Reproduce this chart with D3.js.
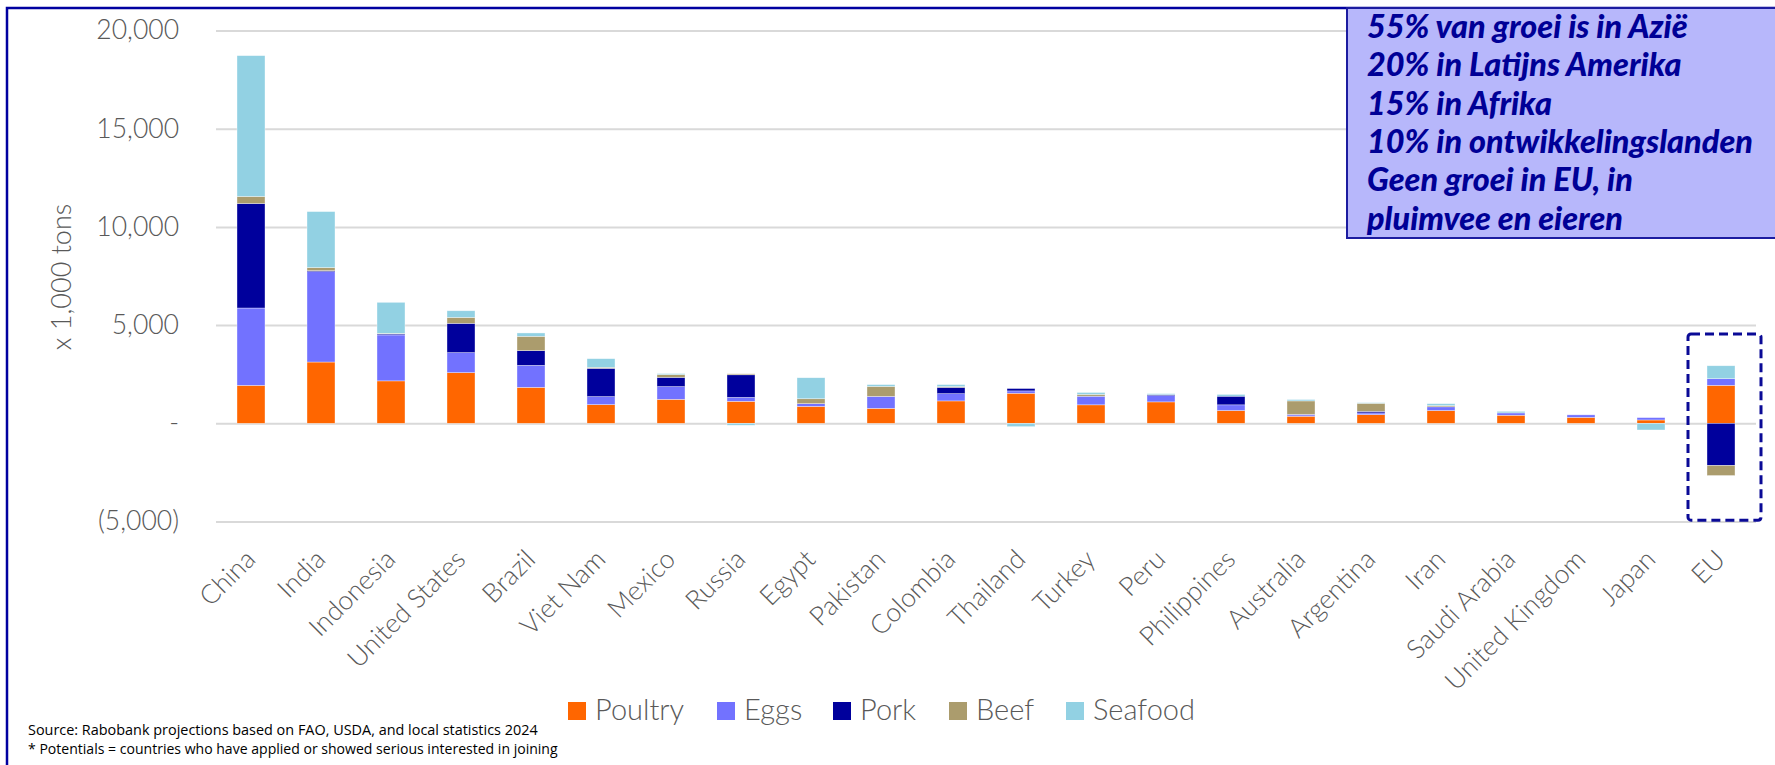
<!DOCTYPE html>
<html>
<head>
<meta charset="utf-8">
<script src="https://cdn.jsdelivr.net/npm/d3@7"></script>
<style>
  html, body { margin: 0; padding: 0; background: #fff; }
  svg { display: block; }
</style>
</head>
<body>
<script>
// ---------------- DATA ----------------
const categories = ["China", "India", "Indonesia", "United States", "Brazil", "Viet Nam", "Mexico", "Russia", "Egypt", "Pakistan", "Colombia", "Thailand", "Turkey", "Peru", "Philippines", "Australia", "Argentina", "Iran", "Saudi Arabia", "United Kingdom", "Japan", "EU"];
const seriesNames = ["Poultry", "Eggs", "Pork", "Beef", "Seafood"];
const poultry = [1930, 3120, 2160, 2580, 1830, 950, 1220, 1120, 860, 760, 1140, 1530, 940, 1090, 650, 360, 440, 650, 410, 300, 170, 1930];
const eggs    = [3940, 4600, 2340, 1020, 1120, 410, 650, 200, 140, 610, 370, 120, 440, 320, 290, 70, 90, 190, 120, 130, 120, 340];
const pork    = [5320, 50, 50, 1490, 750, 1440, 470, 1150, 0, 0, 320, 120, 0, 50, 440, 30, 80, 0, 0, 0, 0, -2150];
const beef    = [360, 160, 30, 300, 730, 50, 140, 50, 250, 510, 40, 0, 90, 0, 0, 680, 410, 60, 0, 0, 0, -510];
const seafood = [7170, 2850, 1580, 340, 170, 440, 50, -100, 1070, 90, 100, -170, 100, 50, 90, 70, 30, 100, 80, 0, -340, 660];
const yTicks = [-5000, 0, 5000, 10000, 15000, 20000];
const yTitle = "x 1,000 tons";
const noteLines = ["55% van groei is in Azië", "20% in Latijns Amerika", "15% in Afrika", "10% in ontwikkelingslanden", "Geen groei in EU, in", "pluimvee en eieren"];
const sourceLines = ["Source: Rabobank projections based on  FAO, USDA, and local statistics 2024", "* Potentials = countries who have applied or showed serious interested in joining"];
const highlightCategory = "EU";

// ---------------- STYLE ----------------
const colors = { Poultry: "#ff6600", Eggs: "#7272ff", Pork: "#00009c", Beef: "#ab9c6d", Seafood: "#92d1e3" };
const lightFont = "Lato, 'Open Sans', sans-serif";
const grey = "#595959";

const W = 1775, H = 765;
const svg = d3.select("body").append("svg").attr("width", W).attr("height", H);

// table for stacking
const seriesValues = { Poultry: poultry, Eggs: eggs, Pork: pork, Beef: beef, Seafood: seafood };
const table = categories.map((c, i) => {
  const row = { category: c };
  seriesNames.forEach(s => row[s] = seriesValues[s][i]);
  return row;
});
const stacked = d3.stack().keys(seriesNames).offset(d3.stackOffsetDiverging)(table);

const x = d3.scaleBand().domain(categories).range([216, 1756]).paddingInner(0.6).paddingOuter(0.3);
const y = d3.scaleLinear().domain([-5000, 20000]).range([521.5, 30.5]);

// outer frame
svg.append("rect").attr("x", 7).attr("y", 8).attr("width", 1800).attr("height", 800)
  .attr("fill", "none").attr("stroke", "#0000a0").attr("stroke-width", 2.5);

// gridlines
const grid = svg.append("g").attr("transform", "translate(216,0)")
  .call(d3.axisLeft(y).tickValues(yTicks).tickSize(-1540).tickFormat(""));
grid.select(".domain").remove();
grid.selectAll("line").attr("stroke", "#d9d9d9").attr("stroke-width", 2);

// y tick labels
const fmt = d3.format(",");
const yAxis = svg.append("g").attr("transform", "translate(216,0)")
  .call(d3.axisLeft(y).tickValues(yTicks).tickSize(0).tickPadding(37)
    .tickFormat(v => v === 0 ? "-" : v < 0 ? "(" + fmt(-v) + ")" : fmt(v)));
yAxis.select(".domain").remove();
yAxis.selectAll("text").attr("font-family", lightFont).attr("font-weight", 300)
  .attr("font-size", 26.5).attr("fill", grey);

// y title
svg.append("text").attr("transform", "translate(71,277) rotate(-90)")
  .attr("text-anchor", "middle").attr("font-family", lightFont).attr("font-weight", 300)
  .attr("font-size", 27).attr("fill", grey).text(yTitle);

// bars
const layers = svg.append("g").selectAll("g").data(stacked).join("g")
  .attr("fill", d => colors[d.key]);
layers.selectAll("rect").data(d => d).join("rect")
  .attr("x", d => x(d.data.category))
  .attr("width", x.bandwidth())
  .attr("y", d => y(Math.max(d[0], d[1])))
  .attr("height", d => Math.abs(y(d[0]) - y(d[1])))
  .attr("stroke", "#ffffff").attr("stroke-width", 0.6).attr("stroke-opacity", 0.6);

// category labels
const xAxis = svg.append("g").call(d3.axisBottom(x).tickSize(0));
xAxis.select(".domain").remove();
xAxis.selectAll("text")
  .attr("x", 0).attr("y", 0).attr("dy", null)
  .attr("text-anchor", "end")
  .attr("transform", "translate(6,561) rotate(-45)")
  .attr("font-family", lightFont).attr("font-weight", 300)
  .attr("font-size", 26.5).attr("fill", grey);

// EU highlight dashed box
const euX = x(highlightCategory);
svg.append("rect")
  .attr("x", euX - 19).attr("y", y(4550))
  .attr("width", x.bandwidth() + 45).attr("height", y(-4930) - y(4550))
  .attr("rx", 3).attr("fill", "none").attr("stroke", "#0a0a96")
  .attr("stroke-width", 3).attr("stroke-dasharray", "9,5");

// annotation box
svg.append("rect").attr("x", 1347).attr("y", 8).attr("width", 460).attr("height", 230)
  .attr("fill", "#b7b7fb").attr("stroke", "#1c1ca0").attr("stroke-width", 2);
const note = svg.append("g");
const noteText = note.selectAll("text").data(noteLines).join("text")
  .attr("x", 1367).attr("y", (d, i) => 38 + i * 38.3)
  .attr("font-family", "Lato, 'Open Sans', sans-serif").attr("font-weight", 900)
  .attr("font-style", "italic").attr("font-size", 28).attr("fill", "#000096")
  .text(d => d);
// fit the longest line to the reference width
let maxW = 0;
noteText.each(function() { maxW = Math.max(maxW, this.getComputedTextLength()); });
noteText.attr("font-size", 28 * 386 / maxW);

// legend
const legendX = [568, 717, 833, 949, 1066];
const legend = svg.append("g").selectAll("g").data(seriesNames).join("g")
  .attr("transform", (d, i) => `translate(${legendX[i]},702)`);
legend.append("rect").attr("width", 18).attr("height", 18).attr("fill", d => colors[d]);
legend.append("text").attr("x", 27).attr("y", 18)
  .attr("font-family", lightFont).attr("font-weight", 300)
  .attr("font-size", 29).attr("fill", grey).text(d => d);

// source lines
const srcW = [510, 530];
const src = svg.append("g").selectAll("text").data(sourceLines).join("text")
  .attr("x", 28).attr("y", (d, i) => 735 + i * 19)
  .attr("font-family", "'Open Sans', sans-serif").attr("font-size", 14).attr("fill", "#000")
  .text(d => d);
src.each(function(d, i) {
  const w = this.getComputedTextLength();
  d3.select(this).attr("font-size", 14 * srcW[i] / w);
});
</script>
</body>
</html>
